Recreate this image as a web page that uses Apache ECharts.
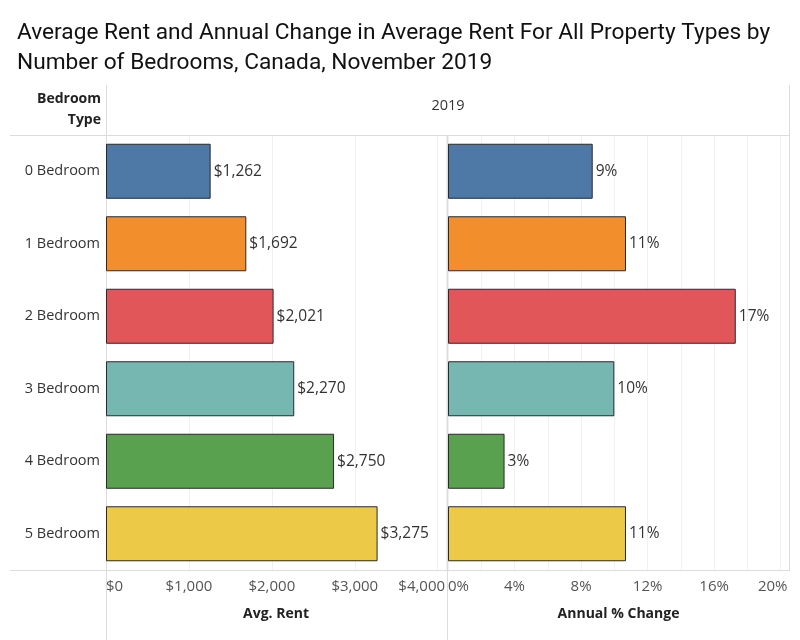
<!DOCTYPE html>
<html>
<head>
<meta charset="utf-8">
<script src="https://cdn.jsdelivr.net/npm/echarts@6/dist/echarts.min.js"></script>
<style>
  html, body { margin: 0; padding: 0; background: #fff; }
  #chart { width: 800px; height: 640px; }
</style>
</head>
<body>
<div id="chart"></div>
<script>
// bedroom types, top to bottom
const bedroomTypes = ['0 Bedroom', '1 Bedroom', '2 Bedroom', '3 Bedroom', '4 Bedroom', '5 Bedroom'];
const avgRent = [1262, 1692, 2021, 2270, 2750, 3275];
const annualChange = [8.7, 10.7, 17.3, 10.0, 3.4, 10.7];
const barColors = ['#4e79a7', '#f28e2b', '#e15759', '#76b7b2', '#59a14f', '#edc948'];

const FONT = '"Open Sans", sans-serif';
const LINE = '#dcdcdc';
const GRID_LINE = '#f0f0f0';

function money(v) {
  return '$' + String(v).replace(/\B(?=(\d{3})+(?!\d))/g, ',');
}

const chart = echarts.init(document.getElementById('chart'));

function hline(x1, x2, y) {
  return { type: 'line', shape: { x1: x1, y1: y, x2: x2, y2: y }, style: { stroke: LINE, lineWidth: 1 }, z: 1 };
}
function vline(x, y1, y2) {
  return { type: 'line', shape: { x1: x, y1: y1, x2: x, y2: y2 }, style: { stroke: LINE, lineWidth: 1 }, z: 1 };
}

const option = {
  animation: false,
  title: {
    text: 'Average Rent and Annual Change in Average Rent For All Property Types by\nNumber of Bedrooms, Canada, November 2019',
    left: 12,
    top: 13,
    textStyle: { fontFamily: 'Roboto', fontSize: 22.7, fontWeight: 'normal', color: '#111', lineHeight: 30 }
  },
  graphic: [
    hline(10, 790, 135.5),
    hline(10, 790, 570.5),
    vline(106.5, 85, 640),
    vline(447.5, 135, 640),
    vline(789.5, 85, 570),
    {
      type: 'text', x: 101, y: 89,
      style: { text: 'Bedroom\nType', align: 'right', font: 'bold 14px ' + FONT, fill: '#222', lineHeight: 21 }
    },
    {
      type: 'text', x: 448, y: 98,
      style: { text: '2019', align: 'center', font: '14.5px ' + FONT, fill: '#333' }
    }
  ],
  grid: [
    { left: 106, right: 354, top: 135, bottom: 70 },
    { left: 448, right: 11, top: 135, bottom: 70 }
  ],
  xAxis: [
    {
      gridIndex: 0, type: 'value', min: 0, max: 4100, interval: 1000,
      name: 'Avg. Rent', nameLocation: 'middle', nameGap: 37,
      nameTextStyle: { fontFamily: FONT, fontSize: 14, fontWeight: 'bold', color: '#222' },
      axisLine: { show: false }, axisTick: { show: false },
      splitLine: { lineStyle: { color: GRID_LINE } },
      axisLabel: {
        fontFamily: FONT, fontSize: 15, color: '#555', margin: 9,
        alignMinLabel: 'left',
        formatter: v => v % 1000 !== 0 ? '' : (v === 4000 ? '{shift|' + money(v) + '}' : money(v)),
        rich: { shift: { fontFamily: FONT, fontSize: 15, color: '#555', padding: [0, 32, 0, 0] } }
      }
    },
    {
      gridIndex: 1, type: 'value', min: 0, max: 20.5, interval: 2,
      name: 'Annual % Change', nameLocation: 'middle', nameGap: 37,
      nameTextStyle: { fontFamily: FONT, fontSize: 14, fontWeight: 'bold', color: '#222' },
      axisLine: { show: false }, axisTick: { show: false },
      splitLine: { lineStyle: { color: GRID_LINE } },
      axisLabel: {
        fontFamily: FONT, fontSize: 15, color: '#555', margin: 9,
        alignMinLabel: 'left',
        formatter: v => v % 4 !== 0 ? '' : (v === 20 ? '{shift|' + v + '%}' : v + '%'),
        rich: { shift: { fontFamily: FONT, fontSize: 15, color: '#555', padding: [0, 16, 0, 0] } }
      }
    }
  ],
  yAxis: [
    {
      gridIndex: 0, type: 'category', data: bedroomTypes, inverse: true,
      axisLine: { show: false }, axisTick: { show: false },
      axisLabel: { fontFamily: FONT, fontSize: 14.5, color: '#333', margin: 6 }
    },
    {
      gridIndex: 1, type: 'category', data: bedroomTypes, inverse: true,
      axisLine: { show: false }, axisTick: { show: false },
      axisLabel: { show: false }
    }
  ],
  series: [
    {
      type: 'bar', xAxisIndex: 0, yAxisIndex: 0, barWidth: 55,
      data: avgRent.map((v, i) => ({ value: v, itemStyle: { color: barColors[i] } })),
      itemStyle: { borderColor: '#2a2a2a', borderWidth: 1 },
      label: {
        show: true, position: 'right', distance: 3,
        fontFamily: FONT, fontSize: 15.5, color: '#333',
        formatter: p => money(p.value)
      }
    },
    {
      type: 'bar', xAxisIndex: 1, yAxisIndex: 1, barWidth: 55,
      data: annualChange.map((v, i) => ({ value: v, itemStyle: { color: barColors[i] } })),
      itemStyle: { borderColor: '#2a2a2a', borderWidth: 1 },
      label: {
        show: true, position: 'right', distance: 3,
        fontFamily: FONT, fontSize: 15.5, color: '#333',
        formatter: p => Math.round(p.value) + '%'
      }
    }
  ]
};

chart.setOption(option);
window.addEventListener('resize', () => chart.resize());
</script>
</body>
</html>
